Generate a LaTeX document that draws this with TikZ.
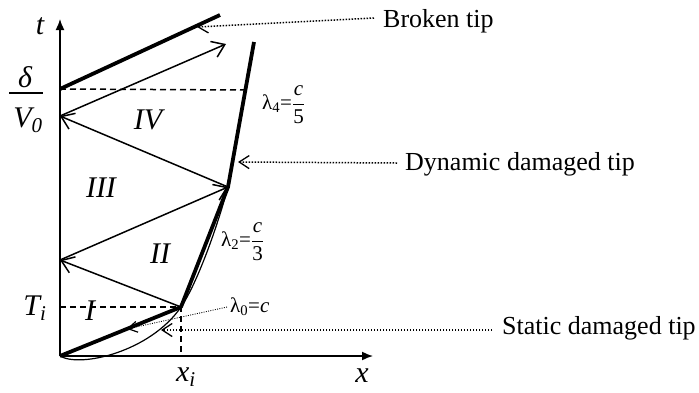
\documentclass[tikz,border=0pt]{standalone}
\usepackage{fontspec}
\setmainfont{Liberation Serif}
\usetikzlibrary{arrows.meta}
\begin{document}
\begin{tikzpicture}[x=1pt,y=-1pt,
  thinl/.style={line width=1.5pt},
  thickl/.style={line width=3.8pt, line join=round},
  barb/.style={-{Straight Barb[length=12pt,width=17pt]}},
  leader/.style={line width=1.5pt, dash pattern=on 1.5pt off 1.5pt, -{Straight Barb[length=10pt,width=13pt,line width=1.3pt]}},
  fineleader/.style={line width=0.9pt, dash pattern=on 0.9pt off 1.4pt, -{Straight Barb[length=9pt,width=11pt,line width=1.2pt]}},
  big/.style={inner sep=0pt, font=\fontsize{30}{30}\selectfont\itshape},
  note/.style={inner sep=0pt, font=\fontsize{26}{28}\selectfont},
  lam/.style={inner sep=0pt, font=\fontsize{21}{21}\selectfont}]
\useasboundingbox (0,0) rectangle (699,392);
% key points
\coordinate (O) at (60,356);
\coordinate (tend) at (60,19);
\coordinate (xend) at (373,356);
\coordinate (P0) at (181,307);
\coordinate (Ti) at (60,307);
\coordinate (xi) at (181,356);
\coordinate (A) at (60,260);
\coordinate (B) at (228,187);
\coordinate (C) at (60,116);
\coordinate (D) at (226,44);
\coordinate (E) at (60,89);
\coordinate (F) at (220,15);
\coordinate (G) at (254,42);
\coordinate (dvend) at (248,90);
\coordinate (bt) at (197,27);
\coordinate (dt) at (238,162);
\coordinate (st) at (161,330);
\coordinate (l0t) at (127,329);
\coordinate (barL) at (9,93);
\coordinate (barR) at (43,93);
% axes
\draw[thinl, -{Latex[length=11pt,width=9pt]}] (O) -- (tend);
\draw[thinl, -{Latex[length=11pt,width=9pt]}] (O) -- (xend);
% dashed helpers
\draw[thinl, dash pattern=on 6pt off 4pt] (Ti) -- (P0) -- (xi);
\draw[thinl, dash pattern=on 6pt off 4pt] (E) -- (dvend);
% thin smooth trajectory
\draw[line width=1.2pt] (O) .. controls (80,368) and (150,352) .. (P0)
   .. controls (195,287) and (215,235) .. (B);
% thick tip path
\draw[thickl] (O) -- (P0) -- (B) -- (G);
\draw[thickl] (E) -- (F);
% wave arrows
\draw[thinl, barb] (P0) -- (A);
\draw[thinl, barb] (A) -- (B);
\draw[thinl, barb] (B) -- (C);
\draw[thinl, barb] (C) -- (D);
% axis labels
\node[big] (lt) at (40,26) {t};
\node[big] (lx) at (362,376) {x};
\node[big] (lxi) at (186,377) {x\textsubscript{\itshape i}};
\node[big] (lTi) at (35,308) {T\textsubscript{\itshape i}};
\node[big] (ldelta) at (25,77) {δ};
\node[big] (lV0) at (28,120) {V\textsubscript{0}};
\draw[line width=1.3pt] (barL) -- (barR);
% region labels
\node[big] (r1) at (90,311) {I};
\node[big] (r2) at (160,254) {II};
\node[big] (r3) at (101,188) {III};
\node[big] (r4) at (148,120) {IV};
% lambda labels
\node[lam, anchor=west] (l0) at (230,307) {λ\textsubscript{0}=\textit{c}};
\node[lam, anchor=west] (l2) at (221,242) {λ\textsubscript{2}=$\displaystyle\frac{\hbox{\itshape c}}{\hbox{3}}$};
\node[lam, anchor=west] (l4) at (262,105) {λ\textsubscript{4}=$\displaystyle\frac{\hbox{\itshape c}}{\hbox{5}}$};
% annotations
\node[note, anchor=west] (nb) at (383,21) {Broken tip};
\node[note, anchor=west] (nd) at (405,164) {Dynamic damaged tip};
\node[note, anchor=west] (ns) at (502,328) {Static damaged tip};
\draw[leader] ([xshift=-9pt,yshift=3pt]nb.west) -- (bt);
\draw[leader] ([xshift=-8pt,yshift=1pt]nd.west) -- (dt);
\draw[leader] ([xshift=-10pt,yshift=-2pt]ns.west) -- (st);
\draw[fineleader] ([xshift=-3pt]l0.west) -- (l0t);
\end{tikzpicture}
\end{document}
